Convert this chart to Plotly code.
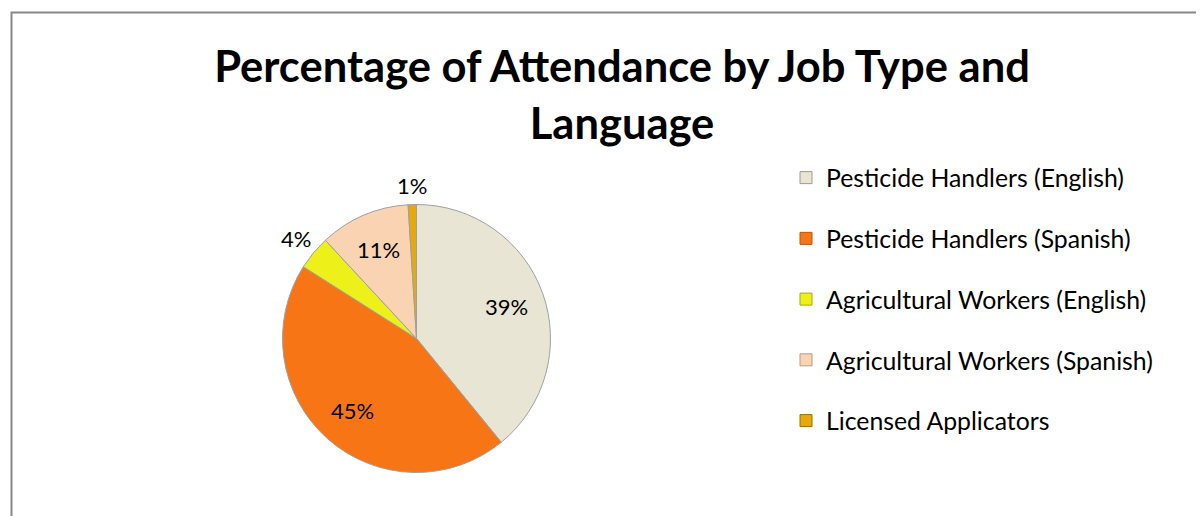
import math
import plotly.graph_objects as go

labels = ["Pesticide Handlers (English)", "Pesticide Handlers (Spanish)",
          "Agricultural Workers (English)", "Agricultural Workers (Spanish)",
          "Licensed Applicators"]
values = [39.1, 44.9, 4.1, 10.9, 1.0]
colors = ["#E8E5D5", "#F77515", "#EEF01A", "#F9D3B2", "#E5A90A"]
line_colors = ["#9E9A8A", "#B85410", "#A8A810", "#B89A80", "#9A7000"]
label_radius = [0.71, 0.72, 1.17, 0.72, 1.14]

W, H = 1204, 516
# the page body adds an 8px offset; positions below are figure coordinates
cx, cy, r = 408.5, 330.5, 134

fig = go.Figure()
fig.add_trace(go.Pie(
    labels=labels, values=values, sort=False, direction="clockwise", rotation=0,
    marker=dict(colors=colors, line=dict(color="#A0A0A0", width=1)),
    textinfo="none", showlegend=False, hoverinfo="label+percent",
    domain=dict(x=[(cx - r) / W, (cx + r) / W], y=[(H - cy - r) / H, (H - cy + r) / H]),
))
for lab, col, lc in zip(labels, colors, line_colors):
    fig.add_trace(go.Scatter(
        x=[None], y=[None], mode="markers", name=lab,
        marker=dict(symbol="square", size=12, color=col, line=dict(color=lc, width=1)),
        legendgroup=lab,
    ))

# percentage labels placed along each slice's mid-angle
total = sum(values)
annotations = []
cum = 0.0
for v, rf in zip(values, label_radius):
    mid = (cum + v / 2) / total * 2 * math.pi
    cum += v
    ax = (cx + rf * r * math.sin(mid)) / W
    ay = (H - cy + rf * r * math.cos(mid)) / H
    annotations.append(dict(x=ax, y=ay, xref="paper", yref="paper",
                            text=f"{round(v / total * 100)}%", showarrow=False,
                            xanchor="center", yanchor="middle",
                            font=dict(family="Lato", size=22, color="black")))

fig.update_layout(
    width=W, height=H,
    margin=dict(l=0, r=0, t=0, b=0),
    paper_bgcolor="white", plot_bgcolor="white",
    xaxis=dict(visible=False), yaxis=dict(visible=False),
    title=dict(text="<b>Percentage of Attendance by Job Type and<br>Language</b>",
               x=614 / W, xanchor="center", y=1 - 74 / H, yanchor="top",
               font=dict(family="Lato", size=43.5, color="black")),
    legend=dict(x=778 / W, xanchor="left", y=1 - 147 / H, yanchor="top",
                font=dict(family="Lato", size=24.8, color="black"),
                tracegroupgap=25.5, itemwidth=30, bgcolor="rgba(0,0,0,0)"),
    annotations=annotations,
    shapes=[dict(type="rect", xref="paper", yref="paper",
                 x0=3.5 / W, x1=1.05, y0=-0.05, y1=1 - 4.5 / H,
                 line=dict(color="#888888", width=2))],
)
fig.write_html("out.html")
